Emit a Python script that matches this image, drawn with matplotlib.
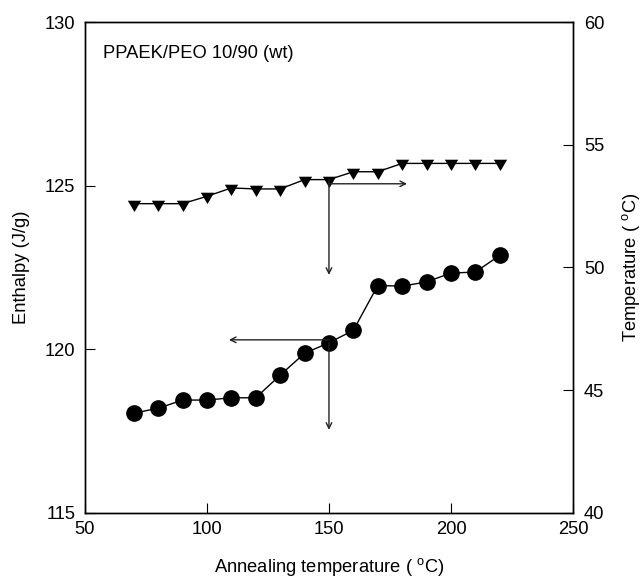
import matplotlib
matplotlib.use("Agg")
import matplotlib.pyplot as plt

plt.rcParams["font.family"] = ["Liberation Sans", "DejaVu Sans"]
plt.rcParams["mathtext.fontset"] = "custom"
plt.rcParams["mathtext.rm"] = "Liberation Sans"
plt.rcParams["font.size"] = 13.2

# Annealing temperatures (deg C)
anneal_t = [70, 80, 90, 100, 110, 120, 130, 140, 150, 160, 170, 180, 190, 200, 210, 220]

# Melting enthalpy (J/g), left axis
enthalpy = [118.05, 118.2, 118.45, 118.45, 118.52, 118.52, 119.21, 119.88,
            120.2, 120.58, 121.95, 121.93, 122.06, 122.33, 122.36, 122.87]

# Melting temperature (deg C), right axis
melt_temp = [52.6, 52.6, 52.6, 52.9, 53.24, 53.2, 53.2, 53.58,
             53.58, 53.9, 53.9, 54.24, 54.24, 54.24, 54.24, 54.24]

# down-pointing triangle, centred on its centroid
tri_down = [(-0.88, 0.5), (0.88, 0.5), (0.0, -1.0)]

fig = plt.figure(figsize=(6.42, 5.79), dpi=100)
ax = fig.add_axes([0.1324, 0.114, 0.760, 0.848])
ax2 = ax.twinx()

ax.plot(anneal_t, enthalpy, "-o", color="black", lw=1.0, ms=11)
ax2.plot(anneal_t, melt_temp, "-", color="black", lw=1.0,
         marker=tri_down, ms=10.9, mfc="black", mec="black", mew=0)

ax.set_xlim(50, 250)
ax.set_ylim(115, 130)
ax2.set_ylim(40, 60)
ax.set_xticks([50, 100, 150, 200, 250])
ax.set_yticks([115, 120, 125, 130])
ax2.set_yticks([40, 45, 50, 55, 60])

ax.tick_params(axis="x", direction="in", length=7, width=0.8, pad=6, top=False)
ax.tick_params(axis="y", direction="in", length=7, width=0.8, pad=7)
ax2.tick_params(axis="y", direction="in", length=7, width=0.8, pad=8)
for a in (ax, ax2):
    for s in a.spines.values():
        s.set_linewidth(1.0)

ax.set_xlabel("Annealing temperature ( $^{\\mathrm{o}}$C)", labelpad=13)
ax.set_ylabel("Enthalpy (J/g)", labelpad=11)
ax2.set_ylabel("Temperature ( $^{\\mathrm{o}}$C)", labelpad=11)

ax.text(57.3, 129.05, "PPAEK/PEO 10/90 (wt)", ha="left", va="center")

# Guide arrows: enthalpy to the left axis, melting temperature to the right
arrow = dict(arrowstyle="->", color="#222222", lw=1.0, shrinkA=0, shrinkB=0,
             mutation_scale=10)
ax.annotate("", xy=(109, 120.29), xytext=(150, 120.29), arrowprops=arrow)
ax.annotate("", xy=(150, 117.54), xytext=(150, 120.2), arrowprops=arrow)
ax2.annotate("", xy=(182, 53.41), xytext=(150, 53.41), arrowprops=arrow)
ax2.annotate("", xy=(150, 49.7), xytext=(150, 53.58), arrowprops=arrow)

fig.savefig("out.png", dpi=100)
